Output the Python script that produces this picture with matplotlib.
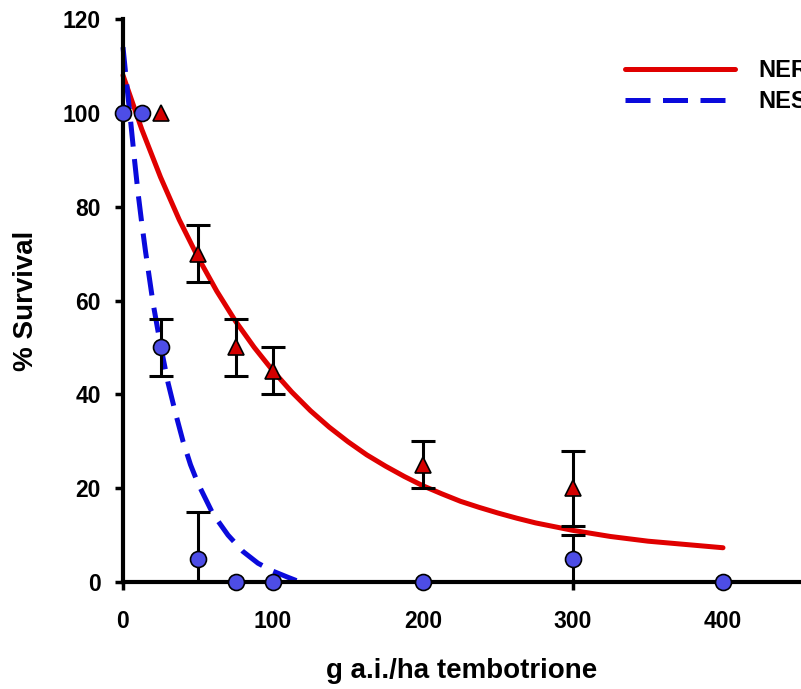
import matplotlib.pyplot as plt

plt.rcParams['font.family'] = ['Liberation Sans', 'DejaVu Sans']
plt.rcParams['font.weight'] = 'bold'

# observed survival (mean +/- error)
ner_x = [25, 50, 75, 100, 200, 300]
ner_y = [100, 70, 50, 45, 25, 20]
ner_err = [0, 6, 6, 5, 5, 8]

nes_x = [0, 12.5, 25, 50, 75, 100, 200, 300, 400]
nes_y = [100, 100, 50, 5, 0, 0, 0, 5, 0]
nes_err = [0, 0, 6, 10, 0, 0, 0, 5, 0]

# fitted curves
ner_fit_x = [0, 12.5, 25, 37.5, 50, 62.5, 75, 87.5, 100, 112.5, 125, 137.5,
             150, 162.5, 175, 187.5, 200, 212.5, 225, 237.5, 250, 262.5, 275,
             287.5, 300, 325, 350, 375, 400]
ner_fit_y = [108, 96.5, 86.3, 77.2, 69.2, 62.0, 55.6, 50.0, 45.0, 40.5, 36.5,
             33.0, 29.9, 27.1, 24.7, 22.5, 20.5, 18.8, 17.2, 15.9, 14.7, 13.6,
             12.6, 11.8, 11.0, 9.7, 8.7, 8.0, 7.3]

nes_fit_x = [0, 2.5, 5, 7.5, 10, 12.5, 15, 20, 25, 30, 35, 40, 45, 50, 60,
             70, 80, 90, 100, 110, 118]
nes_fit_y = [114, 106, 98.5, 90.5, 83, 76.5, 70.5, 59.5, 50.5, 42.5, 36, 30,
             25, 21, 14.5, 10, 6.5, 4, 2.3, 1, 0]

red = '#e00000'
blue = '#0a0adc'

fig = plt.figure(figsize=(8.01, 6.89), dpi=100)
ax = fig.add_axes([123 / 801, 107 / 689, 678 / 801, 563 / 689])

ax.plot(ner_fit_x, ner_fit_y, color=red, lw=3.6, label='NER', zorder=2,
        clip_on=False, solid_capstyle='round', solid_joinstyle='round')
ax.plot(nes_fit_x, nes_fit_y, color=blue, lw=3.6, dashes=(5, 2.5), label='NES',
        zorder=2, clip_on=False)

# error bars (only where there is an error)
def bars(xs, ys, es):
    px, py, lo, hi = [], [], [], []
    for x, y, e in zip(xs, ys, es):
        if e > 0:
            px.append(x)
            py.append(y)
            lo.append(min(e, y))
            hi.append(e)
    ax.errorbar(px, py, yerr=[lo, hi], fmt='none', ecolor='black',
                elinewidth=2.2, capsize=8.5, capthick=2.2, zorder=3)

bars(ner_x, ner_y, ner_err)
bars(nes_x, nes_y, nes_err)

ax.plot(ner_x, ner_y, '^', color='#d40000', mec='black', mew=1.2, ms=11,
        zorder=5, clip_on=False)
ax.plot(nes_x, nes_y, 'o', color='#4d4de6', mec='black', mew=1.2, ms=11.5,
        zorder=6, clip_on=False)

ax.set_xlim(0, 452)
ax.set_ylim(0, 120)
ax.set_xticks([0, 100, 200, 300, 400])
ax.set_yticks(range(0, 121, 20))
for s in ['top', 'right']:
    ax.spines[s].set_visible(False)
for s in ['left', 'bottom']:
    ax.spines[s].set_linewidth(3)
ax.tick_params(width=2.5, length=6, labelsize=16.5)
ax.tick_params(axis='x', pad=14)
ax.tick_params(axis='y', pad=10)

ax.set_ylabel('% Survival', fontsize=20, fontweight='bold')
ax.set_xlabel('g a.i./ha tembotrione', fontsize=20, fontweight='bold')
ax.yaxis.set_label_coords(-0.124, 0.5)
ax.xaxis.set_label_coords(0.5, -0.135)

ax.legend(loc='upper left', bbox_to_anchor=(625 / 801, 1 - 59 / 689),
          bbox_transform=fig.transFigure, frameon=False, borderpad=0,
          borderaxespad=0, handlelength=4.66, handletextpad=1.0,
          labelspacing=0.33, prop={'size': 17, 'weight': 'bold'})

fig.savefig('out.png', dpi=100)
